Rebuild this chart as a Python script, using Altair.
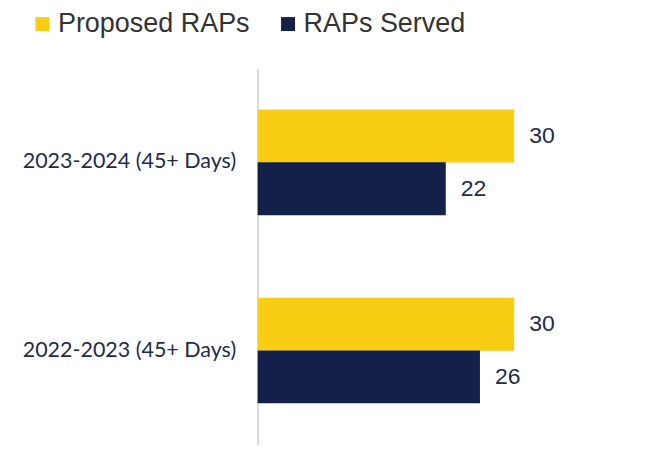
import altair as alt
import pandas as pd

periods = ["2023-2024 (45+ Days)", "2022-2023 (45+ Days)"]
series = ["Proposed RAPs", "RAPs Served"]
proposed = [30, 30]
served = [22, 26]
colors = ["#F9CD14", "#13214A"]

rows = []
for p, a, b in zip(periods, proposed, served):
    rows.append({"period": p, "series": series[0], "value": a})
    rows.append({"period": p, "series": series[1], "value": b})
df = pd.DataFrame(rows)

xscale = alt.Scale(domain=[0, 46], nice=False, zero=True)
y_enc = alt.Y("period:N", sort=periods, title=None,
              scale=alt.Scale(paddingInner=0.44, paddingOuter=0.22),
              axis=alt.Axis(ticks=False, domainColor="#D0D0D0", domainWidth=1.5,
                            labelFont="Lato", labelFontSize=21.5, labelColor="#1F2A4F",
                            labelPadding=22, labelLimit=0))
yoff = alt.YOffset("series:N", sort=series, scale=alt.Scale(paddingInner=0, paddingOuter=0))

bars = alt.Chart(df).mark_bar(size=53).encode(
    y=y_enc, x=alt.X("value:Q", scale=xscale, axis=None), yOffset=yoff,
    color=alt.Color("series:N", sort=series,
                    scale=alt.Scale(domain=series, range=colors),
                    legend=alt.Legend(title=None, orient="none", direction="horizontal",
                                      legendX=-229, legendY=-58,
                                      symbolType="square", symbolSize=196,
                                      symbolStrokeWidth=0,
                                      labelFont="Liberation Sans", labelFontSize=27,
                                      labelColor="#333333", columnPadding=24,
                                      labelOffset=2, labelLimit=400)),
)

labels = alt.Chart(df).mark_text(align="left", dx=15, font="Liberation Sans",
                                 fontSize=23, color="#1F2A4F").encode(
    y=alt.Y("period:N", sort=periods),
    x=alt.X("value:Q", scale=xscale, axis=None),
    yOffset=yoff,
    text="value:Q",
)

chart = alt.layer(bars, labels).properties(
    width=394, height=377,
    padding={"left": 250, "top": 60, "right": 0, "bottom": 0},
    autosize=alt.AutoSizeParams(type="none"),
).configure_view(stroke=None)

chart.save("out.html", embed_options={"renderer": "svg", "actions": False})
